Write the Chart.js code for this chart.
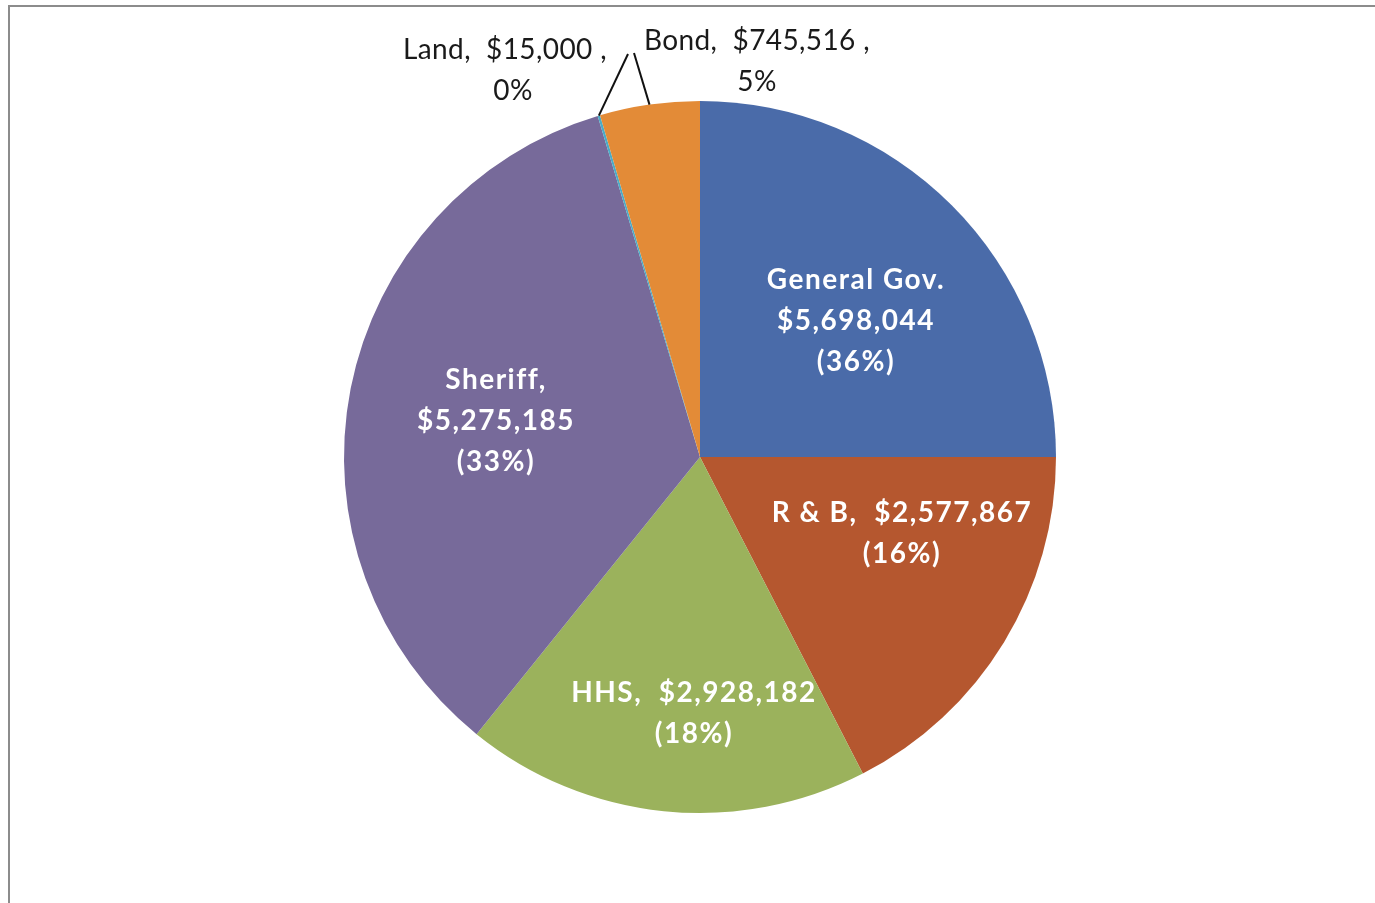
<!DOCTYPE html>
<html>
<head>
<meta charset="utf-8">
<script src="https://cdn.jsdelivr.net/npm/chart.js@4.4.1/dist/chart.umd.min.js"></script>
<style>
  html, body { margin: 0; padding: 0; background: #ffffff; }
  #wrap { width: 1375px; height: 903px; position: relative; }
</style>
</head>
<body>
<div id="wrap"><canvas id="c" width="1375" height="903"></canvas></div>
<script>
// ---- data ----
const categories = ["General Gov.", "R & B", "HHS", "Sheriff", "Land", "Bond"];
// slice shares (%) as drawn in the picture
const shares = [25.0, 17.44, 18.36, 34.56, 0.11, 4.53];
// dollar amounts and percentage text shown on the labels
const amounts = ["$5,698,044", "$2,577,867", "$2,928,182", "$5,275,185", "$15,000", "$745,516"];
const pctText = ["36%", "16%", "18%", "33%", "0%", "5%"];
const colors = ["#4a6ba9", "#b5572f", "#9bb25c", "#776a9a", "#4bacc6", "#e38b37"];

// label text lines
const labelLines = [
  ["General Gov.", amounts[0], "(" + pctText[0] + ")"],
  [categories[1] + ",  " + amounts[1], "(" + pctText[1] + ")"],
  [categories[2] + ",  " + amounts[2], "(" + pctText[2] + ")"],
  [categories[3] + ",", amounts[3], "(" + pctText[3] + ")"],
  [categories[4] + ",  " + amounts[4] + " ,", pctText[4]],
  [categories[5] + ",  " + amounts[5] + " ,", pctText[5]]
];

// label layout (offsets from pie centre, px) — styling only
const labelLayout = [
  { dx: 156, dy: -136, inside: true },
  { dx: 202, dy: 76, inside: true },
  { dx: -6, dy: 256, inside: true },
  { dx: -204, dy: -36, inside: true },
  { dx: -195, dy: -407, inside: false, line2dx: 8, lineTo: { dx: -72, dy: -403 } },
  { dx: 57, dy: -416, inside: false, line2dx: 0, lineTo: { dx: -66, dy: -404 } }
];

const labelPlugin = {
  id: 'labels',
  beforeDraw(chart) {
    const ctx = chart.ctx;
    ctx.save();
    ctx.strokeStyle = '#8c8c8c';
    ctx.lineWidth = 2;
    ctx.beginPath();
    ctx.moveTo(9, 1000);
    ctx.lineTo(9, 6);
    ctx.lineTo(1400, 6);
    ctx.stroke();
    ctx.restore();
  },
  afterDatasetsDraw(chart) {
    const ctx = chart.ctx;
    const meta = chart.getDatasetMeta(0);
    const lh = 41;
    ctx.save();
    ctx.textAlign = 'center';
    ctx.textBaseline = 'middle';
    meta.data.forEach((arc, i) => {
      const p = arc.getProps(['x', 'y', 'startAngle', 'endAngle', 'outerRadius'], true);
      const L = labelLayout[i];
      const lines = labelLines[i];
      if (L.inside) {
        ctx.fillStyle = '#ffffff';
        ctx.font = 'bold 28px Lato, "Open Sans", sans-serif';
        ctx.letterSpacing = '1.5px';
      } else {
        ctx.fillStyle = '#1a1a1a';
        ctx.font = '28px Lato, "Open Sans", sans-serif';
        ctx.letterSpacing = '0.4px';
        // leader line from arc edge at mid angle
        const mid = (p.startAngle + p.endAngle) / 2;
        const ex = p.x + Math.cos(mid) * p.outerRadius;
        const ey = p.y + Math.sin(mid) * p.outerRadius;
        ctx.strokeStyle = '#111111';
        ctx.lineWidth = 2;
        ctx.beginPath();
        ctx.moveTo(ex, ey);
        ctx.lineTo(p.x + L.lineTo.dx, p.y + L.lineTo.dy);
        ctx.stroke();
      }
      const cx = p.x + L.dx;
      const cy0 = p.y + L.dy - (lines.length - 1) * lh / 2;
      const startY = L.inside ? cy0 : p.y + L.dy;
      lines.forEach((t, k) => {
        const xo = (!L.inside && k > 0) ? L.line2dx : 0;
        ctx.fillText(t, cx + xo, startY + k * lh);
      });
    });
    ctx.restore();
  }
};

new Chart(document.getElementById('c'), {
  type: 'pie',
  data: {
    labels: categories,
    datasets: [{
      data: shares,
      backgroundColor: colors,
      borderWidth: 0
    }]
  },
  options: {
    responsive: false,
    animation: false,
    layout: { padding: { top: 101, bottom: 90, left: 25, right: 0 } },
    plugins: { legend: { display: false }, tooltip: { enabled: false } }
  },
  plugins: [labelPlugin]
});
</script>
</body>
</html>
